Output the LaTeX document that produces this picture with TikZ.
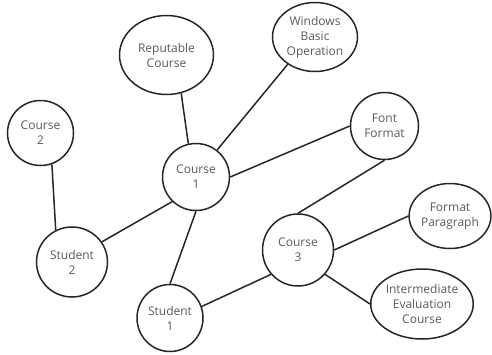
\documentclass[tikz,border=0pt]{standalone}
\usepackage{fontspec}
\setmainfont{Open Sans}
\usetikzlibrary{shapes.geometric}

\begin{document}
\begin{tikzpicture}[
    x=1pt, y=-1pt,
    topic/.style={draw=black!85, line width=1.5pt, ellipse, inner sep=0pt, align=center, text=black!65, font=\fontsize{12}{15}\selectfont},
    link/.style={draw=black!85, line width=1.5pt}
]
    \useasboundingbox (0,0) rectangle (492,354);

    % Top row
    \node[topic, minimum width=94pt, minimum height=79pt] (reputable) at (166.5,55) {Reputable\\Course};
    \node[topic, minimum width=85pt, minimum height=69pt] (windows) at (315,37) {Windows\\Basic\\Operation};
    \node[topic, minimum width=66pt, minimum height=65pt] (course2) at (40.5,133) {Course\\2};
    \node[topic, minimum width=67pt, minimum height=67pt] (course1) at (196,177) {Course\\1};
    \node[topic, minimum width=68pt, minimum height=67pt] (font) at (384.5,126) {Font\\Format};

    % Bottom row
    \node[topic, minimum width=71pt, minimum height=70pt] (student2) at (72,262) {Student\\2};
    \node[topic, minimum width=66pt, minimum height=67pt] (student1) at (170,318) {Student\\1};
    \node[topic, minimum width=71pt, minimum height=72pt] (course3) at (298,250) {Course\\3};
    \node[topic, minimum width=74pt, minimum height=65pt] (paragraph) at (450,216) {Format\\Paragraph};
    \node[topic, minimum width=98pt, minimum height=70pt] (intermediate) at (422,304) {Intermediate\\Evaluation\\Course};

    % Links
    \draw[link] (reputable.-69) -- (course1.103);
    \draw[link] (windows.225) -- (course1.52);
    \draw[link] (course1.east) -- (font.west);
    \draw[link] (course2.-70) -- (student2.117);
    \draw[link] (student2.34) -- (course1.226);
    \draw[link] (course1.south) -- (student1.north);
    \draw[link] (font.south) -- (course3.north);
    \draw[link] (student1.20) -- (course3.222);
    \draw[link] (course3.east) -- (paragraph.west);
    \draw[link] (course3.-42) -- (intermediate.west);
\end{tikzpicture}
\end{document}
